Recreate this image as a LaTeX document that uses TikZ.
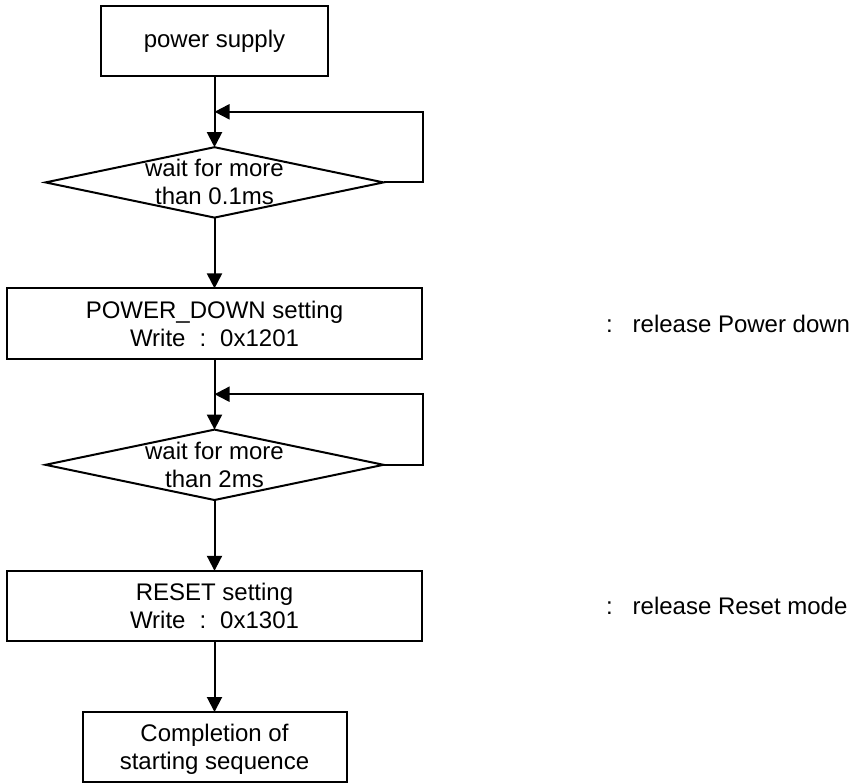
\documentclass[tikz,border=0pt]{standalone}
\usepackage{fontspec}
\setmainfont{Liberation Sans}
\usetikzlibrary{positioning}
\usetikzlibrary{shapes.geometric}
\usetikzlibrary{arrows.meta}
\usetikzlibrary{calc}

\tikzset{
    stepbox/.style={draw, rectangle, line width=1pt, minimum height=35.2pt, align=center, inner sep=0},
    waitbox/.style={draw, diamond, line width=1pt, minimum width=169pt, minimum height=35.2pt, inner sep=0},
    flow/.style={line width=1pt, -{Triangle[length=7.5pt, width=7.5pt]}},
    note/.style={inner sep=0}
}

\begin{document}
\begin{tikzpicture}[outer sep=0, node distance=35.4pt, font=\fontsize{12}{14}\selectfont]
        \useasboundingbox (0,0) rectangle (426pt,-391.5pt);
        \node [stepbox, minimum width=113.5pt] (supply) at (107.25pt,-20.6pt) {power supply};
        \node [waitbox, below = of supply, label={[align=center]center:{wait for more\\than 0.1ms}}] (wait1) {};
        \node [stepbox, minimum width=207.5pt, below = of wait1] (pd) {POWER\_DOWN setting\\Write\hspace{7pt}:\hspace{7pt}0x1201};
        \node [waitbox, below = of pd, label={[align=center]center:{wait for more\\than 2ms}}] (wait2) {};
        \node [stepbox, minimum width=207.5pt, below = of wait2] (rst) {RESET setting\\Write\hspace{7pt}:\hspace{7pt}0x1301};
        \node [stepbox, minimum width=132pt, text depth=0pt, below = of rst] (done) {Completion of\\starting sequence};
        \node [note, right = 92pt of pd] (pdnote) {:\hspace{10pt}release Power down};
        \node [note, right = 92pt of rst] (rstnote) {:\hspace{10pt}release Reset mode};
        \coordinate (j1) at ($(supply.south)!.5!(wait1.north)$);
        \coordinate (j2) at ($(pd.south)!.5!(wait2.north)$);
        \draw[flow] (supply) -- (wait1);
        \draw[flow] (wait1.east) -- ++(19.5pt,0) |- (j1);
        \draw[flow] (wait1) -- (pd);
        \draw[flow] (pd) -- (wait2);
        \draw[flow] (wait2.east) -- ++(19.5pt,0) |- (j2);
        \draw[flow] (wait2) -- (rst);
        \draw[flow] (rst) -- (done);
    \end{tikzpicture}
\end{document}
